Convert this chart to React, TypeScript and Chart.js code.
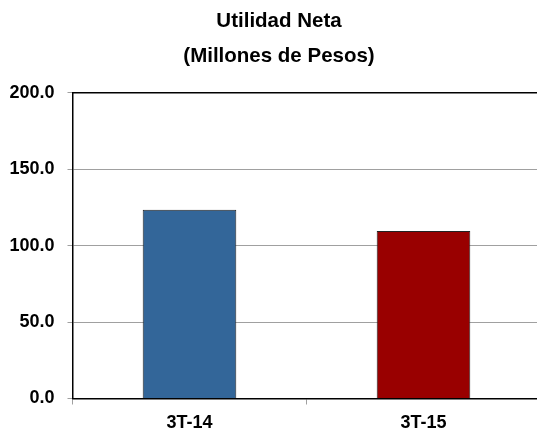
import React, { useEffect, useRef } from "react";
import { Chart, registerables } from "chart.js";

Chart.register(...registerables);

const categories = ["3T-14", "3T-15"];
const values = [123.4, 109.5];
const barColors = ["#336699", "#990000"];
const titleLines = ["Utilidad Neta", "(Millones de Pesos)"];
const yMin = 0;
const yMax = 200;
const yStep = 50;

const FONT = "Arial, 'Liberation Sans', sans-serif";

const frameAndTitle = {
  id: "frameAndTitle",
  afterDraw(chart: any) {
    const { ctx, chartArea } = chart;
    ctx.save();
    ctx.strokeStyle = "#000000";
    ctx.lineWidth = 1.5;
    ctx.beginPath();
    ctx.moveTo(chartArea.left, chartArea.top);
    ctx.lineTo(chartArea.right, chartArea.top);
    ctx.stroke();

    ctx.fillStyle = "#000000";
    ctx.font = `bold 20.5px ${FONT}`;
    ctx.textAlign = "center";
    ctx.textBaseline = "middle";
    const cx = 279;
    titleLines.forEach((line, i) => {
      ctx.fillText(line, cx, 21.5 + i * 35);
    });
    ctx.restore();
  },
};

export default function App() {
  const ref = useRef<HTMLCanvasElement | null>(null);
  useEffect(() => {
    if (!ref.current) return;
    const chart = new Chart(ref.current, {
      type: "bar",
      data: {
        labels: categories,
        datasets: [
          {
            data: values,
            backgroundColor: barColors,
            borderColor: "#222222",
            borderWidth: 1,
            barPercentage: 0.4,
            categoryPercentage: 1,
          },
        ],
      },
      options: {
        responsive: false,
        animation: false,
        layout: { padding: { left: 0, right: 4.5, top: 92.7, bottom: 0 } },
        plugins: {
          legend: { display: false },
          tooltip: { enabled: false },
          title: { display: false },
        },
        scales: {
          x: {
            grid: {
              display: true,
              offset: true,
              drawOnChartArea: false,
              drawTicks: true,
              tickLength: 6,
              color: "#a0a0a0",
            },
            border: { display: true, color: "#000000", width: 1.5 },
            ticks: {
              color: "#000000",
              font: { family: FONT, size: 18, weight: "bold" },
              padding: 8,
              maxRotation: 0,
            },
            afterFit(scale: any) {
              scale.height = 29.5;
            },
          },
          y: {
            min: yMin,
            max: yMax,
            grid: {
              color: "#a0a0a0",
              drawTicks: true,
              tickLength: 5,
            },
            border: { display: true, color: "#000000", width: 1.5 },
            ticks: {
              stepSize: yStep,
              color: "#000000",
              font: { family: FONT, size: 18, weight: "bold" },
              padding: 13,
              callback: (v: any) => Number(v).toFixed(1),
            },
            afterFit(scale: any) {
              scale.width = 72.5;
            },
          },
        },
      },
      plugins: [frameAndTitle],
    });
    return () => chart.destroy();
  }, []);
  return (
    <div style={{ position: "fixed", left: 0, top: 0, width: 537, height: 428, overflow: "hidden", background: "#fff" }}>
      <canvas ref={ref} width={545} height={428} style={{ display: "block" }} />
    </div>
  );
}
